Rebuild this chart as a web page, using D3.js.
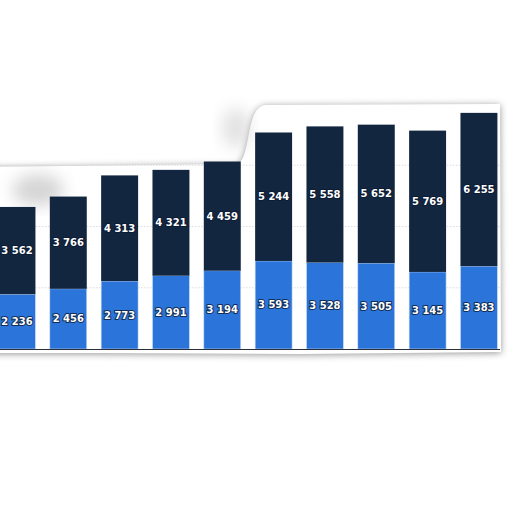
<!DOCTYPE html>
<html lang="en">
  <head>
    <meta charset="UTF-8" />
    <script src="https://cdn.jsdelivr.net/npm/d3@7"></script>
    <style>
      * {
        margin: 0;
        padding: 0;
      }
      body {
        background: #fff;
      }
    </style>
    <title>Stacked bars</title>
  </head>
  <body>
    <div id="chart"></div>
  </body>
  <script>
    // data (axis labels are cut off in the source)
    const categories = ['1', '2', '3', '4', '5', '6', '7', '8', '9', '10'];
    const lowerValues = [2236, 2456, 2773, 2991, 3194, 3593, 3528, 3505, 3145, 3383];
    const upperValues = [3562, 3766, 4313, 4321, 4459, 5244, 5558, 5652, 5769, 6255];
    const gridTicks = [2500, 5000, 7500];

    const colors = { lower: '#2b74d9', upper: '#13263f' };

    const width = 512;
    const height = 512;

    const locale = d3.formatLocale({
      decimal: '.',
      thousands: '\u2009',
      grouping: [3],
      currency: ['', ''],
    });
    const fmt = (v) => locale.format(',')(v).replace('\u2009', ' ');

    const rows = categories.map((c, i) => ({
      cat: c,
      lower: lowerValues[i],
      upper: upperValues[i],
    }));
    const stacked = d3.stack().keys(['lower', 'upper'])(rows);

    const x = d3
      .scaleBand()
      .domain(categories)
      .range([-8.7, 504.6])
      .paddingInner(0.28)
      .paddingOuter(0.14);

    const y = d3.scaleLinear().domain([0, 10000]).range([349, 104]);

    const svg = d3
      .select('#chart')
      .append('svg')
      .attr('width', width)
      .attr('height', height);

    const defs = svg.append('defs');
    const addBlur = (id, sd) =>
      defs
        .append('filter')
        .attr('id', id)
        .attr('x', '-30%')
        .attr('y', '-30%')
        .attr('width', '160%')
        .attr('height', '160%')
        .append('feGaussianBlur')
        .attr('stdDeviation', sd);
    addBlur('blur', 3.5);
    addBlur('soft', 8);

    // torn paper look: blurred grey copy under a white sheet
    const paper =
      'M -20 167 L 236 164 C 252 163, 244 106, 266 105 L 500 104 L 501 352 L 300 354 L 100 353 L -20 353 Z';

    const paperLayer = svg.append('g');
    paperLayer
      .append('path')
      .attr('d', paper)
      .attr('transform', 'translate(0,1)')
      .attr('fill', '#7a7a7a')
      .attr('opacity', 0.8)
      .attr('filter', 'url(#blur)');
    paperLayer.append('path').attr('d', paper).attr('fill', '#fff');
    // soft curl smudges
    paperLayer
      .append('ellipse')
      .attr('cx', 38)
      .attr('cy', 190)
      .attr('rx', 26)
      .attr('ry', 16)
      .attr('fill', '#c4c4c4')
      .attr('opacity', 0.7)
      .attr('filter', 'url(#soft)');
    paperLayer
      .append('ellipse')
      .attr('cx', 236)
      .attr('cy', 128)
      .attr('rx', 14)
      .attr('ry', 20)
      .attr('fill', '#cfcfcf')
      .attr('opacity', 0.6)
      .attr('filter', 'url(#soft)');

    // grid
    svg
      .append('g')
      .selectAll('line')
      .data(gridTicks)
      .join('line')
      .attr('x1', 0)
      .attr('x2', 500)
      .attr('y1', (d) => y(d))
      .attr('y2', (d) => y(d))
      .attr('stroke', '#d4d4d4')
      .attr('stroke-width', 0.8)
      .attr('stroke-dasharray', '1.5,1.5');

    // bars
    const barsLayer = svg.append('g');
    stacked.forEach((layer) => {
      barsLayer
        .append('g')
        .selectAll('rect')
        .data(layer)
        .join('rect')
        .attr('x', (d) => x(d.data.cat))
        .attr('width', x.bandwidth())
        .attr('y', (d) => y(d[1]))
        .attr('height', (d) => y(d[0]) - y(d[1]))
        .attr('fill', colors[layer.key])
        .attr('stroke', layer.key == 'lower' ? '#cfe0f7' : 'none')
        .attr('stroke-width', 0.6);
    });

    // baseline
    svg
      .append('line')
      .attr('x1', 0)
      .attr('x2', 500)
      .attr('y1', y(0) + 0.5)
      .attr('y2', y(0) + 0.5)
      .attr('stroke', '#2a2f3a')
      .attr('stroke-width', 1);

    // labels
    const labelLayer = svg.append('g');
    stacked.forEach((layer) => {
      labelLayer
        .append('g')
        .selectAll('text')
        .data(layer)
        .join('text')
        .attr('x', (d) => x(d.data.cat) + x.bandwidth() / 2)
        .attr('y', (d) => (y(d[0]) + y(d[1])) / 2)
        .attr('dy', '0.35em')
        .attr('text-anchor', 'middle')
        .attr('font-family', 'DejaVu Sans, sans-serif')
        .attr('font-weight', 'bold')
        .attr('font-size', 10)
        .attr('fill', '#fff')
        .attr('stroke', '#0b1a33')
        .attr('stroke-width', 2)
        .attr('stroke-opacity', 0.8)
        .attr('paint-order', 'stroke')
        .text((d) => fmt(d.data[layer.key]));
    });
  </script>
</html>
